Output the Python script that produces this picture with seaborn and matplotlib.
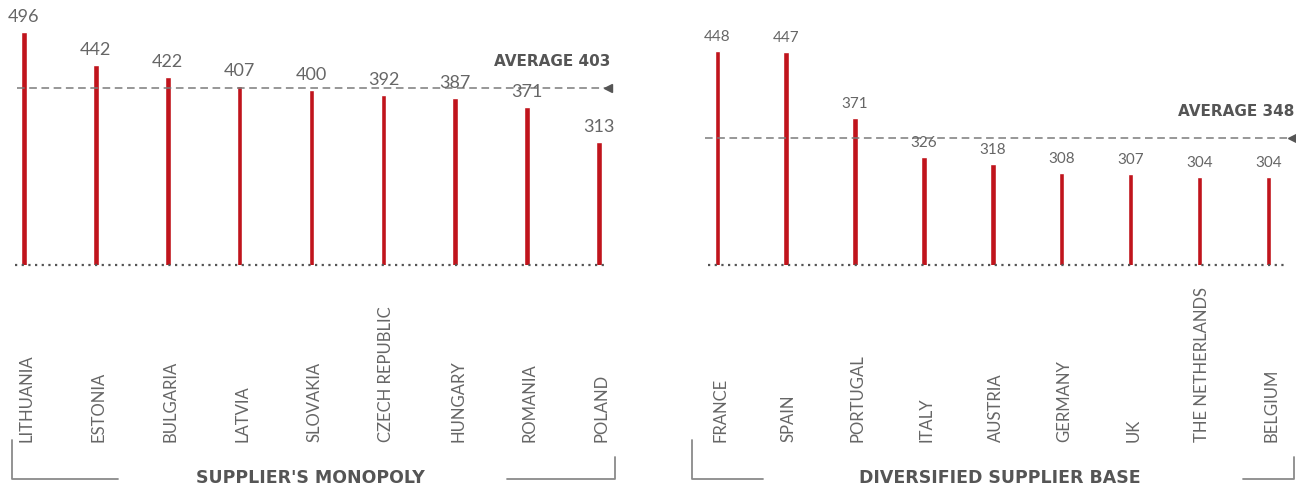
import matplotlib
matplotlib.use("Agg")
import matplotlib.pyplot as plt
from matplotlib.lines import Line2D
import seaborn as sns
import pandas as pd

# Monopoly-supplied markets
mono_countries = ["LITHUANIA", "ESTONIA", "BULGARIA", "LATVIA", "SLOVAKIA",
                  "CZECH REPUBLIC", "HUNGARY", "ROMANIA", "POLAND"]
mono_values = [496, 442, 422, 407, 400, 392, 387, 371, 313]
mono_average = 403
mono_title = "SUPPLIER'S MONOPOLY"

# Markets with a diversified supplier base
div_countries = ["FRANCE", "SPAIN", "PORTUGAL", "ITALY", "AUSTRIA",
                 "GERMANY", "UK", "THE NETHERLANDS", "BELGIUM"]
div_values = [448, 447, 371, 326, 318, 308, 307, 304, 304]
div_average = 348
div_title = "DIVERSIFIED SUPPLIER BASE"

RED = "#c0141c"
GREY_TXT = "#666666"
DARK_TXT = "#555555"
LINE_GREY = "#7a7a7a"

sns.set_theme(style="white")
plt.rcParams["font.family"] = ["Lato", "DejaVu Sans"]

W, H = 1296, 486
fig = plt.figure(figsize=(W / 100, H / 100), dpi=100)


def px_axes(x0, x1, y_base):
    return fig.add_axes([x0 / W, (H - y_base) / H, (x1 - x0) / W, y_base / H])


def draw_panel(ax, countries, values, average, xlim, ylim, bar_width,
               value_fs, base_span, avg_span):
    df = pd.DataFrame({"country": countries, "value": values})
    sns.barplot(data=df, x="country", y="value", ax=ax, color=RED,
                width=bar_width, saturation=1, order=countries)
    ax.set_xlim(*xlim)
    ax.set_ylim(*ylim)
    ax.set_xlabel("")
    ax.set_ylabel("")
    ax.set_xticks([])
    ax.set_yticks([])
    for s in ax.spines.values():
        s.set_visible(False)
    ax.patch.set_alpha(0)

    # dotted baseline
    ax.axhline(ylim[0], xmin=base_span[0], xmax=base_span[1], color="#555555",
               lw=1.6, ls=(0, (1, 2)), zorder=3, clip_on=False)
    # dashed average line with arrowhead
    ax.axhline(average, xmin=avg_span[0], xmax=avg_span[1], color=LINE_GREY,
               lw=1.1, ls=(0, (5, 3)), zorder=1)
    x_end = xlim[0] + avg_span[1] * (xlim[1] - xlim[0])
    ax.plot([x_end], [average], marker="<", color="#555555", ms=6, zorder=4,
            clip_on=False)
    ax.annotate(f"AVERAGE {average}", (x_end, average), xytext=(2, 14),
                textcoords="offset points", ha="right", va="bottom",
                fontsize=11, fontweight="bold", color=DARK_TXT,
                family="DejaVu Sans")

    for i, (c, v) in enumerate(zip(countries, values)):
        ax.annotate(f"{v}", (i, v), xytext=(0, 5), textcoords="offset points",
                    ha="center", va="bottom", fontsize=value_fs,
                    color=GREY_TXT)
        ax.annotate(c, (i, 0), xycoords=("data", "axes fraction"),
                    xytext=(2, -127.5), textcoords="offset points",
                    rotation=90, ha="center", va="bottom", fontsize=12,
                    color=GREY_TXT)


ax1 = px_axes(15, 608, 265)
draw_panel(ax1, mono_countries, mono_values, mono_average,
           xlim=(-0.125, 8.125), ylim=(108, 550), bar_width=0.078,
           value_fs=13, base_span=(0.0, 1.0), avg_span=(0.003, 1.0))

ax2 = px_axes(705, 1292, 265)
draw_panel(ax2, div_countries, div_values, div_average,
           xlim=(-0.179, 8.344), ylim=(203, 506), bar_width=0.08,
           value_fs=11, base_span=(0.005, 0.988), avg_span=(0.0, 1.0))


def fig_line(xs, ys):
    fig.add_artist(Line2D([x / W for x in xs], [(H - y) / H for y in ys],
                          transform=fig.transFigure, color="#8a8a8a", lw=1.3))


# group brackets
fig_line([12, 12, 118], [440, 479, 479])
fig_line([507, 615, 615], [479, 479, 457])
fig_line([692, 692, 763], [440, 479, 479])
fig_line([1243, 1294, 1294], [479, 479, 457])

fig.text(310 / W, (H - 478) / H, mono_title, ha="center", va="center",
         fontsize=12.5, fontweight="bold", color=DARK_TXT, family="DejaVu Sans")
fig.text(1000 / W, (H - 478) / H, div_title, ha="center", va="center",
         fontsize=12.5, fontweight="bold", color=DARK_TXT, family="DejaVu Sans")

fig.savefig("out.png", dpi=100, facecolor="white")
